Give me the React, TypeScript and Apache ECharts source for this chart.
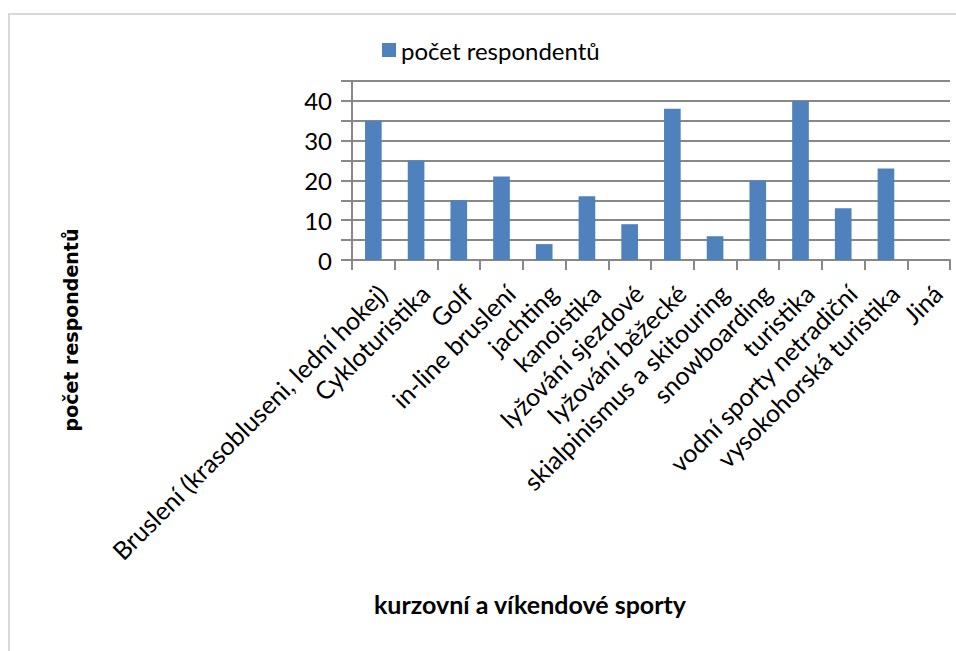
import React, { useEffect, useRef } from "react";
import * as echarts from "echarts";

const categories = [
  "Bruslení (krasobluseni, lední hokej)",
  "Cykloturistika",
  "Golf",
  "in-line bruslení",
  "jachting",
  "kanoistika",
  "lyžování sjezdové",
  "lyžování běžecké",
  "skialpinismus a skitouring",
  "snowboarding",
  "turistika",
  "vodní sporty netradiční",
  "vysokohorská turistika",
  "Jiná",
];
const values = [35, 25, 15, 21, 4, 16, 9, 38, 6, 20, 40, 13, 23, 0];
const seriesName = "počet respondentů";
const yTitle = "počet respondentů";
const xTitle = "kurzovní a víkendové sporty";

const GRID = "#888888";
const FONT = "Lato";

export default function App() {
  const ref = useRef<HTMLDivElement>(null);
  useEffect(() => {
    const chart = echarts.init(ref.current!, undefined, { renderer: "svg" });
    chart.setOption({
      animation: false,
      backgroundColor: "#ffffff",
      legend: {
        data: [seriesName],
        left: 377,
        top: 33,
        icon: "rect",
        itemWidth: 14,
        itemHeight: 14,
        itemGap: 6,
        textStyle: { fontFamily: FONT, fontSize: 24, color: "#000" },
      },
      grid: { left: 352, right: 6, top: 81, bottom: 391, containLabel: false },
      xAxis: {
        type: "category",
        data: categories,
        axisLine: { show: true, lineStyle: { color: GRID, width: 2 } },
        axisTick: { show: true, length: 10, lineStyle: { color: GRID, width: 2 } },
        axisLabel: {
          rotate: 45,
          interval: 0,
          margin: 20,
          align: "right",
          verticalAlign: "top",
          fontFamily: FONT,
          fontSize: 25,
          color: "#000",
        },
      },
      yAxis: {
        type: "value",
        min: 0,
        max: 45,
        interval: 5,
        axisLine: { show: true, lineStyle: { color: GRID, width: 2 } },
        axisTick: { show: true, length: 11, lineStyle: { color: GRID, width: 2 } },
        splitLine: { show: true, lineStyle: { color: GRID, width: 2 } },
        axisLabel: {
          margin: 20,
          fontFamily: FONT,
          fontSize: 24,
          color: "#000",
          formatter: (v: number) => (v % 10 === 0 ? String(v) : ""),
        },
      },
      series: [
        {
          name: seriesName,
          type: "bar",
          data: values,
          barWidth: "39%",
          itemStyle: { color: "#4f81bd" },
        },
      ],
      graphic: [
        {
          type: "rect",
          shape: { x: 9, y: 14, width: 1200, height: 900 },
          style: { fill: "none", stroke: "#d9d9d9", lineWidth: 2 },
          silent: true,
        },
        {
          type: "text",
          x: 71,
          y: 330,
          rotation: Math.PI / 2,
          style: {
            text: yTitle,
            fontFamily: "DejaVu Sans",
            fontWeight: "bold",
            fontSize: 19,
            fill: "#000",
            align: "center",
            verticalAlign: "middle",
          },
        },
        {
          type: "text",
          x: 530,
          y: 604,
          style: {
            text: xTitle,
            fontFamily: FONT,
            fontWeight: "bold",
            fontSize: 25,
            fill: "#000",
            align: "center",
            verticalAlign: "middle",
          },
        },
      ],
    });
    return () => chart.dispose();
  }, []);
  return (
    <div
      ref={ref}
      style={{ position: "fixed", left: 0, top: 0, width: 956, height: 651 }}
    />
  );
}
